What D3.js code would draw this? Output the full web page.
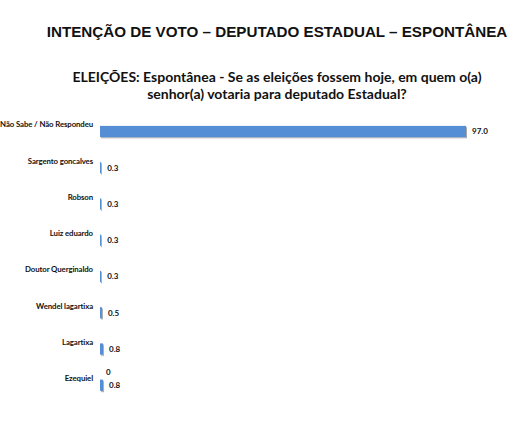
<!DOCTYPE html>
<html>
<head>
<meta charset="utf-8">
<script src="https://cdn.jsdelivr.net/npm/d3@7"></script>
<style>
  body { margin: 0; background: #fff; }
  svg { display: block; }
</style>
</head>
<body>
<svg id="chart"></svg>
<script>
const categories = ["Não Sabe / Não Respondeu", "Sargento goncalves", "Robson", "Luiz eduardo",
  "Doutor Querginaldo", "Wendel lagartixa", "Lagartixa", "Ezequiel"];
const seriesTop = [null, null, null, null, null, null, null, 0];
const seriesMain = [97.0, 0.3, 0.3, 0.3, 0.3, 0.5, 0.8, 0.8];

const width = 519, height = 440;
const svg = d3.select("#chart").attr("width", width).attr("height", height);

// titles
svg.append("text")
  .attr("x", 277).attr("y", 37)
  .attr("text-anchor", "middle")
  .style("font-family", "'Liberation Sans', Arial, sans-serif")
  .style("font-weight", "bold").style("font-size", "15.2px")
  .attr("fill", "#111")
  .text("INTENÇÃO DE VOTO – DEPUTADO ESTADUAL – ESPONTÂNEA");

const sub = svg.append("text")
  .attr("text-anchor", "middle")
  .style("font-family", "Lato, 'Open Sans', sans-serif")
  .style("font-weight", "bold").style("font-size", "14px")
  .attr("fill", "#111");
sub.append("tspan").attr("x", 277).attr("y", 82)
  .text("ELEIÇÕES: Espontânea - Se as eleições fossem hoje, em quem o(a)");
sub.append("tspan").attr("x", 277).attr("y", 99)
  .text("senhor(a) votaria para deputado Estadual?");

const defs = svg.append("defs");
defs.append("filter").attr("id", "shadow")
  .attr("x", "-10%").attr("y", "-30%").attr("width", "120%").attr("height", "180%")
  .append("feDropShadow")
  .attr("dx", 1).attr("dy", 1.2).attr("stdDeviation", 0.7)
  .attr("flood-color", "#000").attr("flood-opacity", 0.35);

const x = d3.scaleLinear().domain([0, 97]).range([100, 466]);
const y = d3.scaleBand().domain(categories).range([107, 397])
  .paddingInner(0.34).paddingOuter(0.17);
const ySub = d3.scaleBand().domain(["top", "main"]).range([0, y.bandwidth()]).paddingInner(0.12);

const rows = categories.map((c, i) => ({ cat: c, top: seriesTop[i], main: seriesMain[i] }));

// category labels
svg.append("g").selectAll("text")
  .data(rows).enter().append("text")
  .attr("x", 93)
  .attr("y", d => y(d.cat) + y.bandwidth() / 2)
  .attr("dy", "0.3em")
  .attr("text-anchor", "end")
  .style("font-family", "Lato, 'Open Sans', sans-serif")
  .style("font-weight", "bold").style("font-size", "7.8px")
  .style("letter-spacing", "-0.1px")
  .attr("fill", "#111")
  .text(d => d.cat);

// main bars
svg.append("g").selectAll("rect")
  .data(rows).enter().append("rect")
  .attr("x", x(0))
  .attr("y", d => y(d.cat) + ySub("main"))
  .attr("width", d => x(d.main) - x(0))
  .attr("height", ySub.bandwidth())
  .attr("fill", "#558ed5")
  .attr("filter", "url(#shadow)");

// value labels
const labelStyle = sel => sel
  .style("font-family", "Lato, 'Open Sans', sans-serif")
  .style("font-weight", "bold").style("font-size", "8px")
  .attr("fill", "#111");

svg.append("g").selectAll("text")
  .data(rows).enter().append("text")
  .attr("x", d => x(d.main) + 6)
  .attr("y", d => y(d.cat) + ySub("main") + ySub.bandwidth() / 2)
  .attr("dy", "0.35em")
  .call(labelStyle)
  .text(d => d3.format(".1f")(d.main));

svg.append("g").selectAll("text")
  .data(rows.filter(d => d.top !== null)).enter().append("text")
  .attr("x", d => x(d.top) + 6)
  .attr("y", d => y(d.cat) + ySub("top") + ySub.bandwidth() / 2)
  .attr("dy", "0.35em")
  .call(labelStyle)
  .text(d => String(d.top));
</script>
</body>
</html>
